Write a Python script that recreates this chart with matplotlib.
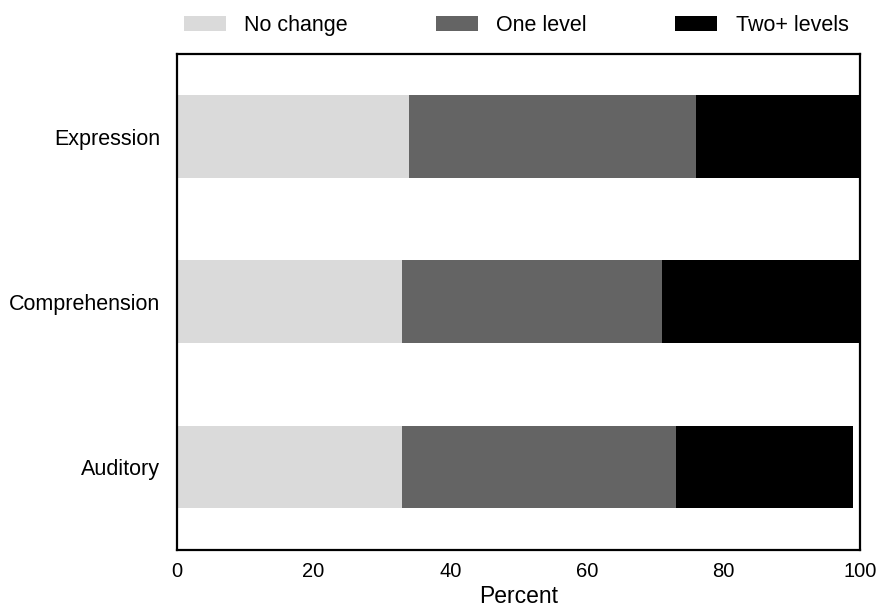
import matplotlib
matplotlib.use('Agg')
import matplotlib.pyplot as plt
import numpy as np

CATEGORIES = ['Expression', 'Comprehension', 'Auditory']
NO_CHANGE = [34, 33, 33]
ONE_LEVEL = [42, 38, 40]
TWO_PLUS = [24, 29, 26]

SERIES = ['No change', 'One level', 'Two+ levels']
COLORS = ['#dadada', '#646464', '#000000']

plt.rcParams['font.family'] = ['Liberation Sans', 'DejaVu Sans']

fig = plt.figure(figsize=(8.8, 6.11), dpi=100)
ax = fig.add_axes([177 / 880, 1 - 549.5 / 611, (860 - 177) / 880, (549.5 - 54) / 611])

y = np.arange(len(CATEGORIES))
left = np.zeros(len(CATEGORIES))
for name, vals, color in zip(SERIES, [NO_CHANGE, ONE_LEVEL, TWO_PLUS], COLORS):
    ax.barh(y, vals, left=left, height=0.5, color=color, label=name)
    left += np.array(vals)

ax.set_yticks(y)
ax.set_yticklabels(CATEGORIES, fontsize=15.5)
ax.set_ylim(2.5, -0.5)
ax.set_xlim(0, 100)
ax.set_xticks([0, 20, 40, 60, 80, 100])
ax.tick_params(axis='x', labelsize=14.5, length=0, pad=9)
ax.tick_params(axis='y', length=0, pad=12)
ax.set_xlabel('Percent', fontsize=16.5, labelpad=3)
for s in ax.spines.values():
    s.set_linewidth(1.6)
    s.set_color('black')

fig.legend(loc='upper left', bbox_to_anchor=(184 / 880, 1 - 15 / 611),
           ncol=3, frameon=False, fontsize=15.5, borderpad=0, borderaxespad=0,
           handlelength=1.95, handleheight=0.65, handletextpad=0.85, columnspacing=4.1)

fig.savefig('out.png', dpi=100)
